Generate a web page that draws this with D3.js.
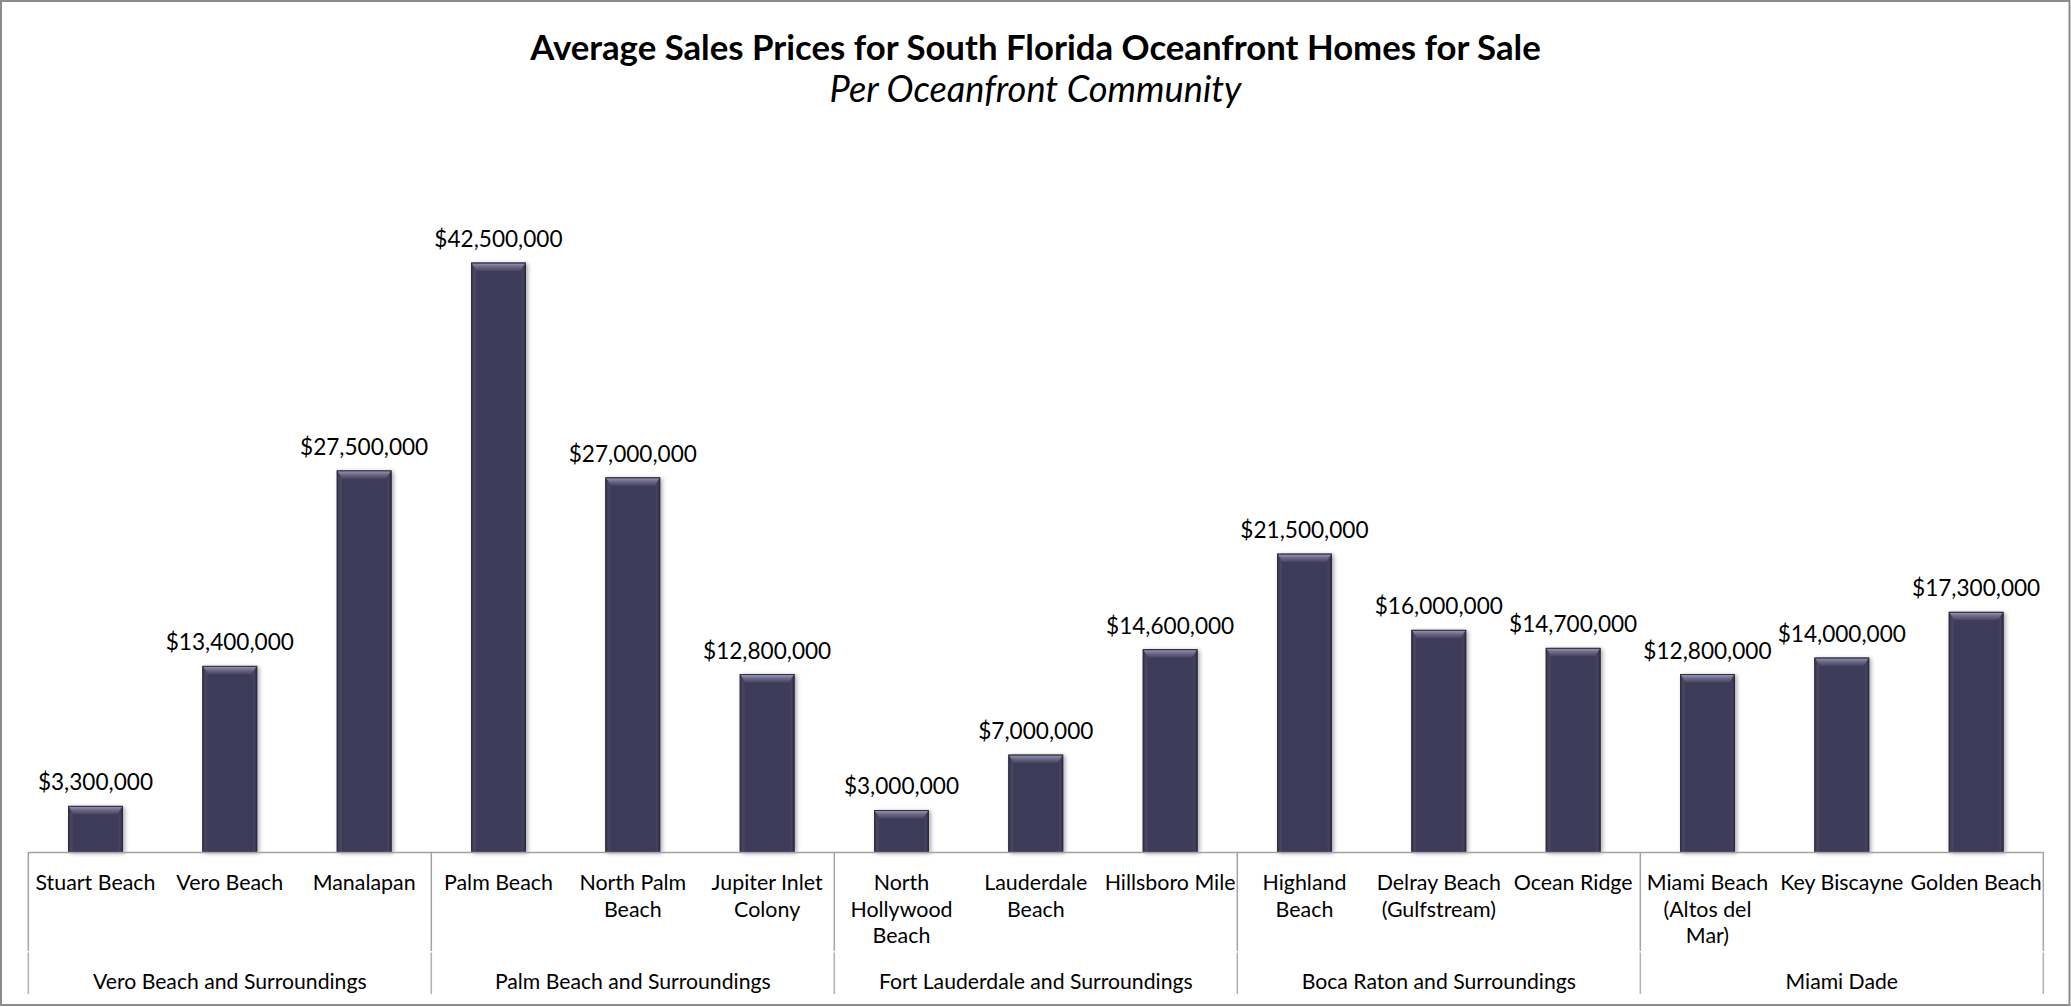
<!DOCTYPE html>
<html><head><meta charset="utf-8">
<script src="https://cdn.jsdelivr.net/npm/d3@7"></script>
<style>html,body{margin:0;padding:0;background:#fff;} svg{display:block;}</style>
</head><body>
<svg id="chart" width="2071" height="1007"></svg>
<script>
// ---- data ----
const categories = ["Stuart Beach","Vero Beach","Manalapan","Palm Beach","North Palm Beach","Jupiter Inlet Colony","North Hollywood Beach","Lauderdale Beach","Hillsboro Mile","Highland Beach","Delray Beach (Gulfstream)","Ocean Ridge","Miami Beach (Altos del Mar)","Key Biscayne","Golden Beach"];
const categoryLines = [["Stuart Beach"],["Vero Beach"],["Manalapan"],["Palm Beach"],["North Palm","Beach"],["Jupiter Inlet","Colony"],["North","Hollywood","Beach"],["Lauderdale","Beach"],["Hillsboro Mile"],["Highland","Beach"],["Delray Beach","(Gulfstream)"],["Ocean Ridge"],["Miami Beach","(Altos del","Mar)"],["Key Biscayne"],["Golden Beach"]];
const groups = ["Vero Beach and Surroundings","Palm Beach and Surroundings","Fort Lauderdale and Surroundings","Boca Raton and Surroundings","Miami Dade"];
const prices = [3300000,13400000,27500000,42500000,27000000,12800000,3000000,7000000,14600000,21500000,16000000,14700000,12800000,14000000,17300000];
const yDomain = [0, 45000000];
const titleText = "Average Sales Prices for South Florida Oceanfront Homes for Sale";
const subtitleText = "Per Oceanfront Community";

// ---- layout ----
const W = 2071, H = 1007;
const left = 28.3, right = 2043.3, base = 852;
const FONT = "Lato, 'Open Sans', sans-serif";
const svg = d3.select("#chart");

const x = d3.scaleBand().domain(categories).range([left, right]).paddingInner(0.598).paddingOuter(0.299);
const xg = d3.scaleBand().domain(groups).range([left, right]).padding(0);
const y = d3.scaleLinear().domain(yDomain).range([base, base - 45 * 13.86]);

// border
svg.append("rect").attr("x", 1).attr("y", 1).attr("width", W - 2.5).attr("height", H - 3)
  .attr("fill", "#fff").attr("stroke", "#8c8c8c").attr("stroke-width", 2);

// defs
const defs = svg.append("defs");
const f = defs.append("filter").attr("id", "shadow").attr("x", "-30%").attr("y", "-10%").attr("width", "160%").attr("height", "120%");
f.append("feGaussianBlur").attr("in", "SourceAlpha").attr("stdDeviation", 2.2).attr("result", "b");
f.append("feOffset").attr("in", "b").attr("dx", 2).attr("dy", 1).attr("result", "o");
f.append("feComponentTransfer").attr("in", "o").attr("result", "s").append("feFuncA").attr("type", "linear").attr("slope", 0.35);
const fm = f.append("feMerge"); fm.append("feMergeNode").attr("in", "s"); fm.append("feMergeNode").attr("in", "SourceGraphic");

const gTop = defs.append("linearGradient").attr("id", "bevTop").attr("x1", 0).attr("y1", 0).attr("x2", 0).attr("y2", 1);
gTop.append("stop").attr("offset", "0%").attr("stop-color", "#9592b0");
gTop.append("stop").attr("offset", "45%").attr("stop-color", "#6b6888");
gTop.append("stop").attr("offset", "100%").attr("stop-color", "#48455f");
const gL = defs.append("linearGradient").attr("id", "bevL").attr("x1", 0).attr("y1", 0).attr("x2", 1).attr("y2", 0);
gL.append("stop").attr("offset", "0%").attr("stop-color", "#35334c");
gL.append("stop").attr("offset", "60%").attr("stop-color", "#4a4766");
gL.append("stop").attr("offset", "100%").attr("stop-color", "#403d5b");
const gR = defs.append("linearGradient").attr("id", "bevR").attr("x1", 0).attr("y1", 0).attr("x2", 1).attr("y2", 0);
gR.append("stop").attr("offset", "0%").attr("stop-color", "#3e3b58");
gR.append("stop").attr("offset", "50%").attr("stop-color", "#46435f");
gR.append("stop").attr("offset", "100%").attr("stop-color", "#2c2a40");

// title
const title = svg.append("text").attr("x", W / 2).attr("y", 60).attr("text-anchor", "middle")
  .attr("font-family", FONT).attr("font-weight", 700).attr("font-size", 34).attr("fill", "#000").text(titleText);
const sub = svg.append("text").attr("x", W / 2).attr("y", 102).attr("text-anchor", "middle")
  .attr("font-family", FONT).attr("font-style", "italic").attr("font-size", 32).attr("fill", "#000").text(subtitleText);
function fit(sel, target) {
  const w = sel.node().getComputedTextLength();
  sel.attr("font-size", +sel.attr("font-size") * target / w);
}
fit(title, 1011);
fit(sub, 412);

// bars
const data = categories.map((c, i) => ({ c, v: prices[i], lines: categoryLines[i] }));
const bars = svg.append("g").selectAll("g.bar").data(data).join("g").attr("class", "bar");
const bw = x.bandwidth(), s = 5, t = 8;
bars.each(function (d) {
  const g = d3.select(this);
  const x0 = x(d.c), y0 = y(d.v), h = base - y0;
  g.append("rect").attr("x", x0).attr("y", y0).attr("width", bw).attr("height", h)
    .attr("fill", "#3e3b58").attr("stroke", "#2c2a40").attr("stroke-width", 0.8).attr("filter", "url(#shadow)");
  g.append("polygon").attr("points", [[x0, y0 + 0.5], [x0 + s, y0 + t], [x0 + s, base], [x0, base]].join(" ")).attr("fill", "url(#bevL)");
  g.append("polygon").attr("points", [[x0 + bw, y0 + 0.5], [x0 + bw - s, y0 + t], [x0 + bw - s, base], [x0 + bw, base]].join(" ")).attr("fill", "url(#bevR)");
  g.append("polygon").attr("points", [[x0 + 0.5, y0 + 0.5], [x0 + bw - 0.5, y0 + 0.5], [x0 + bw - s, y0 + t], [x0 + s, y0 + t]].join(" ")).attr("fill", "url(#bevTop)");
  g.append("rect").attr("x", x0).attr("y", y0).attr("width", bw).attr("height", h)
    .attr("fill", "none").attr("stroke", "#2c2a40").attr("stroke-width", 0.8);
});

// data labels
svg.append("g").selectAll("text").data(data).join("text")
  .attr("x", d => x(d.c) + bw / 2).attr("y", d => y(d.v) - 16)
  .attr("text-anchor", "middle").attr("font-family", FONT).attr("font-size", 22.6).attr("fill", "#000")
  .text(d => d3.format("$,")(d.v));

// category axis
const axis = svg.append("g").attr("transform", `translate(0,${base})`)
  .call(d3.axisBottom(x).tickSize(0).tickSizeOuter(0).tickFormat(""));
axis.select(".domain").attr("stroke", "#a3a3a3").attr("stroke-width", 1.5);
axis.selectAll(".tick text").remove();

const catLbl = svg.append("g").selectAll("text").data(data).join("text")
  .attr("text-anchor", "middle").attr("font-family", FONT).attr("font-size", 21.4).attr("fill", "#000");
catLbl.each(function (d) {
  const cx = x(d.c) + bw / 2;
  d3.select(this).selectAll("tspan").data(d.lines).join("tspan")
    .attr("x", cx).attr("y", (l, i) => 890 + i * 26.6).text(l => l);
});

// group dividers
const bounds = groups.map(g => xg(g)).concat([right]);
const div = svg.append("g").attr("stroke", "#a3a3a3").attr("stroke-width", 1.5);
bounds.forEach(bx => {
  div.append("line").attr("x1", bx).attr("x2", bx).attr("y1", base).attr("y2", 951);
  div.append("line").attr("x1", bx).attr("x2", bx).attr("y1", 952.5).attr("y2", 994).attr("stroke", "#b0b0b0");
});

// group labels
svg.append("g").selectAll("text").data(groups).join("text")
  .attr("x", g => xg(g) + xg.bandwidth() / 2).attr("y", 989)
  .attr("text-anchor", "middle").attr("font-family", FONT).attr("font-size", 21.2).attr("fill", "#000")
  .text(g => g);
</script>
</body></html>
